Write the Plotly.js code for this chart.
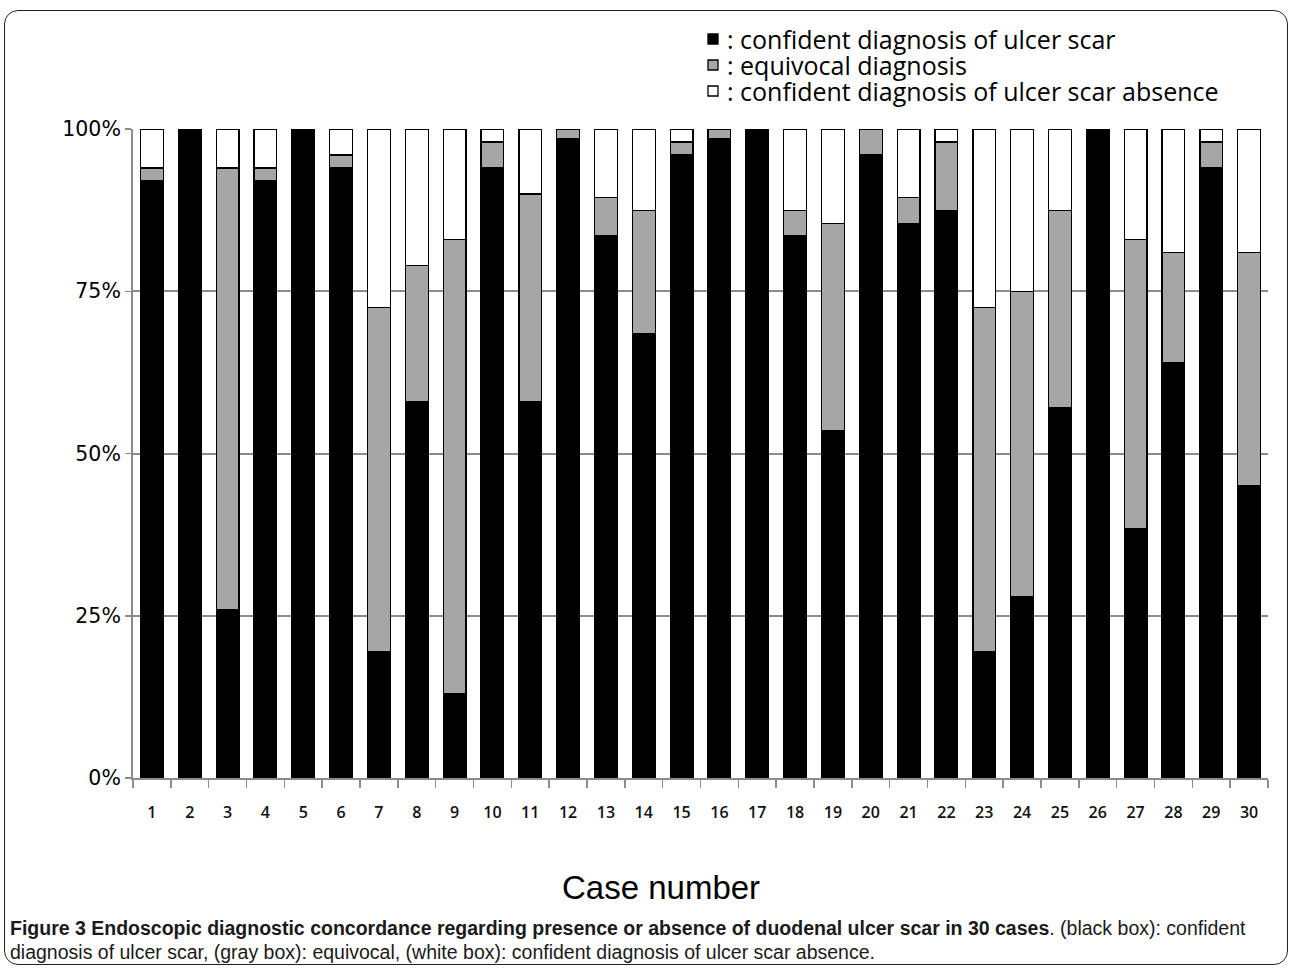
<!DOCTYPE html>
<html>
<head>
<meta charset="utf-8">
<script src="https://cdn.plot.ly/plotly-3.0.1.min.js"></script>
<style>
html,body{margin:0;padding:0;background:#fff;}
#wrap{position:relative;width:1293px;height:971px;}
#chart{width:1293px;height:971px;}
#frame{position:absolute;left:4px;top:10px;width:1284px;height:955px;border:1.5px solid #222;border-radius:14px;pointer-events:none;box-sizing:border-box;}
</style>
</head>
<body>
<div id="wrap"><div id="chart"></div><div id="frame"></div></div>
<script>
const cases = ['1','2','3','4','5','6','7','8','9','10','11','12','13','14','15','16','17','18','19','20','21','22','23','24','25','26','27','28','29','30'];
const confident = [92,100,26,92,100,94,19.5,58,13,94,58,98.5,83.5,68.5,96,98.5,100,83.5,53.5,96,85.5,87.5,19.5,28,57,100,38.5,64,94,45];
const equivocal = [2,0,68,2,0,2,53,21,70,4,32,1.5,6,19,2,1.5,0,4,32,4,4,10.5,53,47,30.5,0,44.5,17,4,36];
const absence   = [6,0,6,6,0,4,27.5,21,17,2,10,0,10.5,12.5,2,0,0,12.5,14.5,0,10.5,2,27.5,25,12.5,0,17,19,2,19];
const seriesNames = [': confident diagnosis of ulcer scar', ': equivocal diagnosis', ': confident diagnosis of ulcer scar absence'];
const yTicks = [0,25,50,75,100];
const yTickText = ['0%','25%','50%','75%','100%'];

const fills = ['#000000','#a6a6a6','#ffffff'];
const vals = [confident, equivocal, absence];
const traces = vals.map((v,i)=>({
  type:'bar', x:cases, y:v, name:seriesNames[i],
  marker:{color:fills[i], line:{color:'#000', width:1.2}},
  width:0.6, hoverinfo:'skip', showlegend:false
}));

// plot area in pixels: x 133..1268, y 129..778
const L=133, W=1135, B=778, H=649;
const px = X => (X-L)/W;
const py = Y => (B-Y)/H;

const legendRows = [39, 65, 91];
const legendShapes = legendRows.map((Y,i)=>({
  type:'rect', xref:'paper', yref:'paper',
  x0:px(708), x1:px(718), y0:py(Y+5), y1:py(Y-5),
  fillcolor:fills[i], line:{color:'#000', width:1.3}
}));
const legendText = legendRows.map((Y,i)=>({
  xref:'paper', yref:'paper', x:px(725), y:py(Y), xanchor:'left', yanchor:'middle', showarrow:false,
  text:seriesNames[i], font:{family:'Open Sans, sans-serif', size:25, color:'#000'}
}));

const layout = {
  width:1293, height:971,
  margin:{l:133, r:25, t:129, b:193, autoexpand:false},
  paper_bgcolor:'#fff', plot_bgcolor:'#fff',
  barmode:'stack',
  showlegend:false,
  xaxis:{
    type:'category', range:[-0.5,29.5],
    showline:true, linecolor:'#8c8c8c', linewidth:2,
    ticks:'outside', tickson:'boundaries', ticklen:8, tickcolor:'#8c8c8c', tickwidth:1.5,
    tickfont:{family:'Open Sans, sans-serif', size:16, weight:600, color:'#111'},
    ticklabelstandoff:19, tickangle:0,
    showgrid:false, zeroline:false
  },
  yaxis:{
    range:[0,100], tickvals:yTicks, ticktext:yTickText,
    showline:true, linecolor:'#8c8c8c', linewidth:2,
    ticks:'outside', ticklen:6, tickcolor:'#8c8c8c', tickwidth:1.5,
    tickfont:{family:'DejaVu Sans, Verdana, sans-serif', size:20.5, color:'#000'},
    showgrid:true, gridcolor:'#8c8c8c', gridwidth:2, zeroline:false
  },
  shapes: legendShapes,
  annotations: legendText.concat([
    {xref:'paper', yref:'paper', x:px(661), y:py(887), xanchor:'center', yanchor:'middle', showarrow:false,
     text:'Case number', font:{family:'Liberation Sans, Arial, sans-serif', size:33, color:'#000'}},
    {xref:'paper', yref:'paper', x:px(8), y:py(928), xanchor:'left', yanchor:'middle', showarrow:false, align:'left',
     text:'<b>Figure 3 Endoscopic diagnostic concordance regarding presence or absence of duodenal ulcer scar in 30 cases</b>. (black box): confident',
     font:{family:'Liberation Sans, Arial, sans-serif', size:19.5, color:'#1a1a1a'}},
    {xref:'paper', yref:'paper', x:px(8), y:py(952), xanchor:'left', yanchor:'middle', showarrow:false, align:'left',
     text:'diagnosis of ulcer scar, (gray box): equivocal, (white box): confident diagnosis of ulcer scar absence.',
     font:{family:'Liberation Sans, Arial, sans-serif', size:19.5, color:'#1a1a1a'}}
  ])
};
Plotly.newPlot('chart', traces, layout, {displayModeBar:false, staticPlot:true});
</script>
</body>
</html>
